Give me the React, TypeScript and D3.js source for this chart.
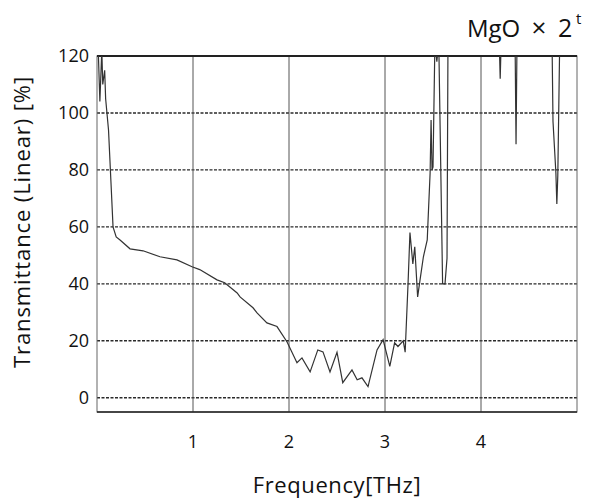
import React from "react";
import * as d3 from "d3";

const freq: number[] = [
  0.01, 0.03, 0.05, 0.06, 0.08, 0.09, 0.12, 0.145, 0.167, 0.2, 0.24, 0.344, 0.48,
  0.656, 0.833, 0.99, 1.07, 1.25, 1.33, 1.46, 1.49, 1.625, 1.667, 1.77, 1.875,
  1.98, 2.083, 2.135, 2.22, 2.3, 2.354, 2.427, 2.5, 2.56, 2.656, 2.71, 2.76,
  2.823, 2.917, 2.98, 3.05, 3.1, 3.135, 3.19, 3.21, 3.24, 3.26, 3.29, 3.31,
  3.34, 3.365, 3.4, 3.44, 3.45, 3.47, 3.48, 3.49, 3.5, 3.52, 3.54, 3.56, 3.6,
  3.625, 3.646, 3.656, 4.19, 4.2, 4.21, 4.355, 4.365, 4.375, 4.74, 4.75, 4.78,
  4.79, 4.8, 4.82, 5.0,
];
const transmittance: number[] = [
  125, 104, 122, 110, 115, 105, 94, 76, 60, 56.5, 55.4, 52.3, 51.6,
  49.5, 48.4, 46, 45, 41.4, 40.4, 36.8, 35.4, 31.6, 29.8, 26.3, 25,
  19.6, 12.3, 14, 9.1, 16.8, 16.1, 9.1, 16, 5.3, 9.8, 6.3, 7,
  3.9, 16.8, 20.4, 11, 19.3, 18, 20, 16, 40, 58, 47, 53,
  35.4, 41.4, 49.5, 55.4, 63.5, 79, 97.5, 80, 81, 125, 118, 125, 40,
  40, 49, 125, 125, 112, 125, 125, 89, 125, 125, 97, 79,
  68, 78, 125, 125,
];

const xTicks = [1, 2, 3, 4];
const yTicks = [0, 20, 40, 60, 80, 100, 120];

export default function App() {
  const W = 592, H = 500;
  const x = d3.scaleLinear().domain([0, 5]).range([97, 577]);
  const y = d3.scaleLinear().domain([-5, 120]).range([412, 56]);
  const data = freq.map((f, i) => [f, transmittance[i]] as [number, number]);
  const line = d3.line<[number, number]>().x(d => x(d[0])).y(d => y(d[1]));
  const font = "'Open Sans', sans-serif";
  return (
    <svg width={W} height={H} style={{ position: "absolute", left: 0, top: 0, background: "#fff" }}>
      <defs>
        <clipPath id="plot">
          <rect x={x(0)} y={y(120)} width={x(5) - x(0)} height={y(-5) - y(120)} />
        </clipPath>
      </defs>
      {yTicks.map(t => (
        <line key={"hy" + t} x1={x(0)} x2={x(5)} y1={y(t)} y2={y(t)} stroke="#2a2a2a" strokeWidth={1.4} strokeDasharray="3,1.5" />
      ))}
      {xTicks.map(t => (
        <line key={"vx" + t} x1={x(t)} x2={x(t)} y1={y(120)} y2={y(-5)} stroke="#555" strokeWidth={1} />
      ))}
      <rect x={x(0)} y={y(120)} width={x(5) - x(0)} height={y(-5) - y(120)} fill="none" stroke="#666" strokeWidth={1} />
      <line x1={x(0)} x2={x(5)} y1={y(120)} y2={y(120)} stroke="#222" strokeWidth={2} />
      <line x1={x(0)} x2={x(5)} y1={y(-5)} y2={y(-5)} stroke="#222" strokeWidth={1.5} />
      <path d={line(data) || ""} fill="none" stroke="#333" strokeWidth={1.2} clipPath="url(#plot)" />
      {yTicks.map(t => (
        <text key={"ty" + t} x={89} y={y(t)} dy="0.35em" textAnchor="end" fontFamily={font} fontSize={18} fill="#111">{t}</text>
      ))}
      {xTicks.map(t => (
        <text key={"tx" + t} x={x(t)} y={448} textAnchor="middle" fontFamily={font} fontSize={18} fill="#111">{t}</text>
      ))}
      <text x={337} y={493} textAnchor="middle" fontFamily={font} fontSize={22} letterSpacing={0.6} fill="#111">Frequency[THz]</text>
      <text transform="translate(30,222) rotate(-90)" textAnchor="middle" fontFamily={font} fontSize={22} letterSpacing={0.9} fill="#111">Transmittance (Linear) [%]</text>
      <text x={467} y={37} fontFamily={font} fontSize={24} fill="#111">MgO</text>
      <text x={539} y={37} textAnchor="middle" fontFamily={font} fontSize={26} fill="#111">×</text>
      <text x={558} y={37} fontFamily={font} fontSize={25} fill="#111">2</text>
      <text x={576} y={24} fontFamily={font} fontSize={15} fill="#111">t</text>
    </svg>
  );
}
